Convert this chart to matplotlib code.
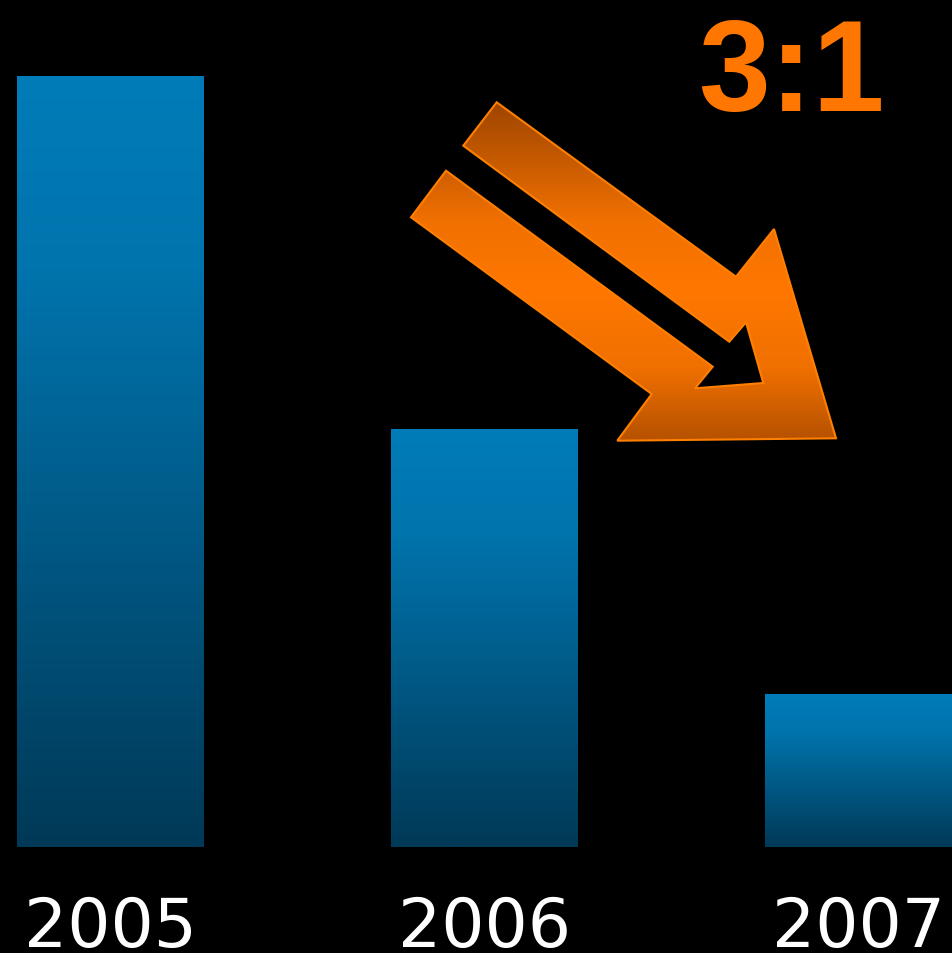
import numpy as np
import matplotlib
matplotlib.use("Agg")
import matplotlib.pyplot as plt
from matplotlib.colors import LinearSegmentedColormap
from matplotlib.patches import Polygon
from matplotlib.transforms import blended_transform_factory

# ---- data ----
years = ["2005", "2006", "2007"]
values = [100.0, 54.2, 19.8]
ratio_label = "3:1"

# ---- figure ----
W, H = 952, 954
fig = plt.figure(figsize=(W / 100, H / 100), dpi=100, facecolor="black")
ax = fig.add_axes([0, 0, 1, 1])
ax.set_facecolor("black")
ax.set_xlim(-0.2955, 2.2505)
ax.set_ylim(-13.75, 110.0)
ax.axis("off")

bar_cmap = LinearSegmentedColormap.from_list(
    "barg", [(0.0, "#007cb8"), (0.25, "#0074ad"), (1.0, "#003957")])

x = np.arange(len(years))
bars = ax.bar(x, values, width=0.5, color="none", edgecolor="none")
grad = np.linspace(0, 1, 256).reshape(-1, 1)
for b in bars:
    x0, y0 = b.get_x(), b.get_y()
    w, h = b.get_width(), b.get_height()
    im = ax.imshow(grad, cmap=bar_cmap, aspect="auto", origin="upper",
                   extent=[x0, x0 + w, y0, y0 + h], zorder=2)
    im.set_clip_path(b)

trans = blended_transform_factory(ax.transData, ax.transAxes)
for xi, lab in zip(x, years):
    ax.text(xi, 0.0075, lab, transform=trans, ha="center", va="baseline",
            color="white", fontsize=49, family="DejaVu Sans")

# ---- overlay for the arrow and ratio label (pixel coordinates) ----
ov = fig.add_axes([0, 0, 1, 1])
ov.set_xlim(0, W)
ov.set_ylim(H, 0)
ov.axis("off")
ov.patch.set_alpha(0)

arrow_pts = [(496.7, 103.3), (736, 277.7), (774, 230), (836, 439.3),
             (617.3, 441.7), (651.7, 395), (411, 218.3), (446, 171.7),
             (712.7, 367.7), (695, 389.3), (763.3, 384), (746, 323.3),
             (729.3, 342.7), (463.3, 146.7)]
poly = Polygon(arrow_pts, closed=True, facecolor="none",
               edgecolor="#ff7f00", linewidth=1.5, zorder=4)
ov.add_patch(poly)
arrow_cmap = LinearSegmentedColormap.from_list(
    "arrg", [(0.0, "#9c4400"), (0.35, "#f07000"), (0.55, "#ff7700"),
             (0.78, "#f07000"), (1.0, "#b35000")])
agrad = np.linspace(0, 1, 256).reshape(-1, 1)
aim = ov.imshow(agrad, cmap=arrow_cmap, aspect="auto", origin="upper",
                extent=[405, 840, 445, 100], zorder=3)
aim.set_clip_path(poly)
ov.set_xlim(0, W)
ov.set_ylim(H, 0)

ov.text(791, 111, ratio_label, ha="center", va="baseline", color="#ff7700",
        fontsize=93, fontweight="bold", family="Liberation Sans")

fig.savefig("out.png", dpi=100, facecolor="black")
